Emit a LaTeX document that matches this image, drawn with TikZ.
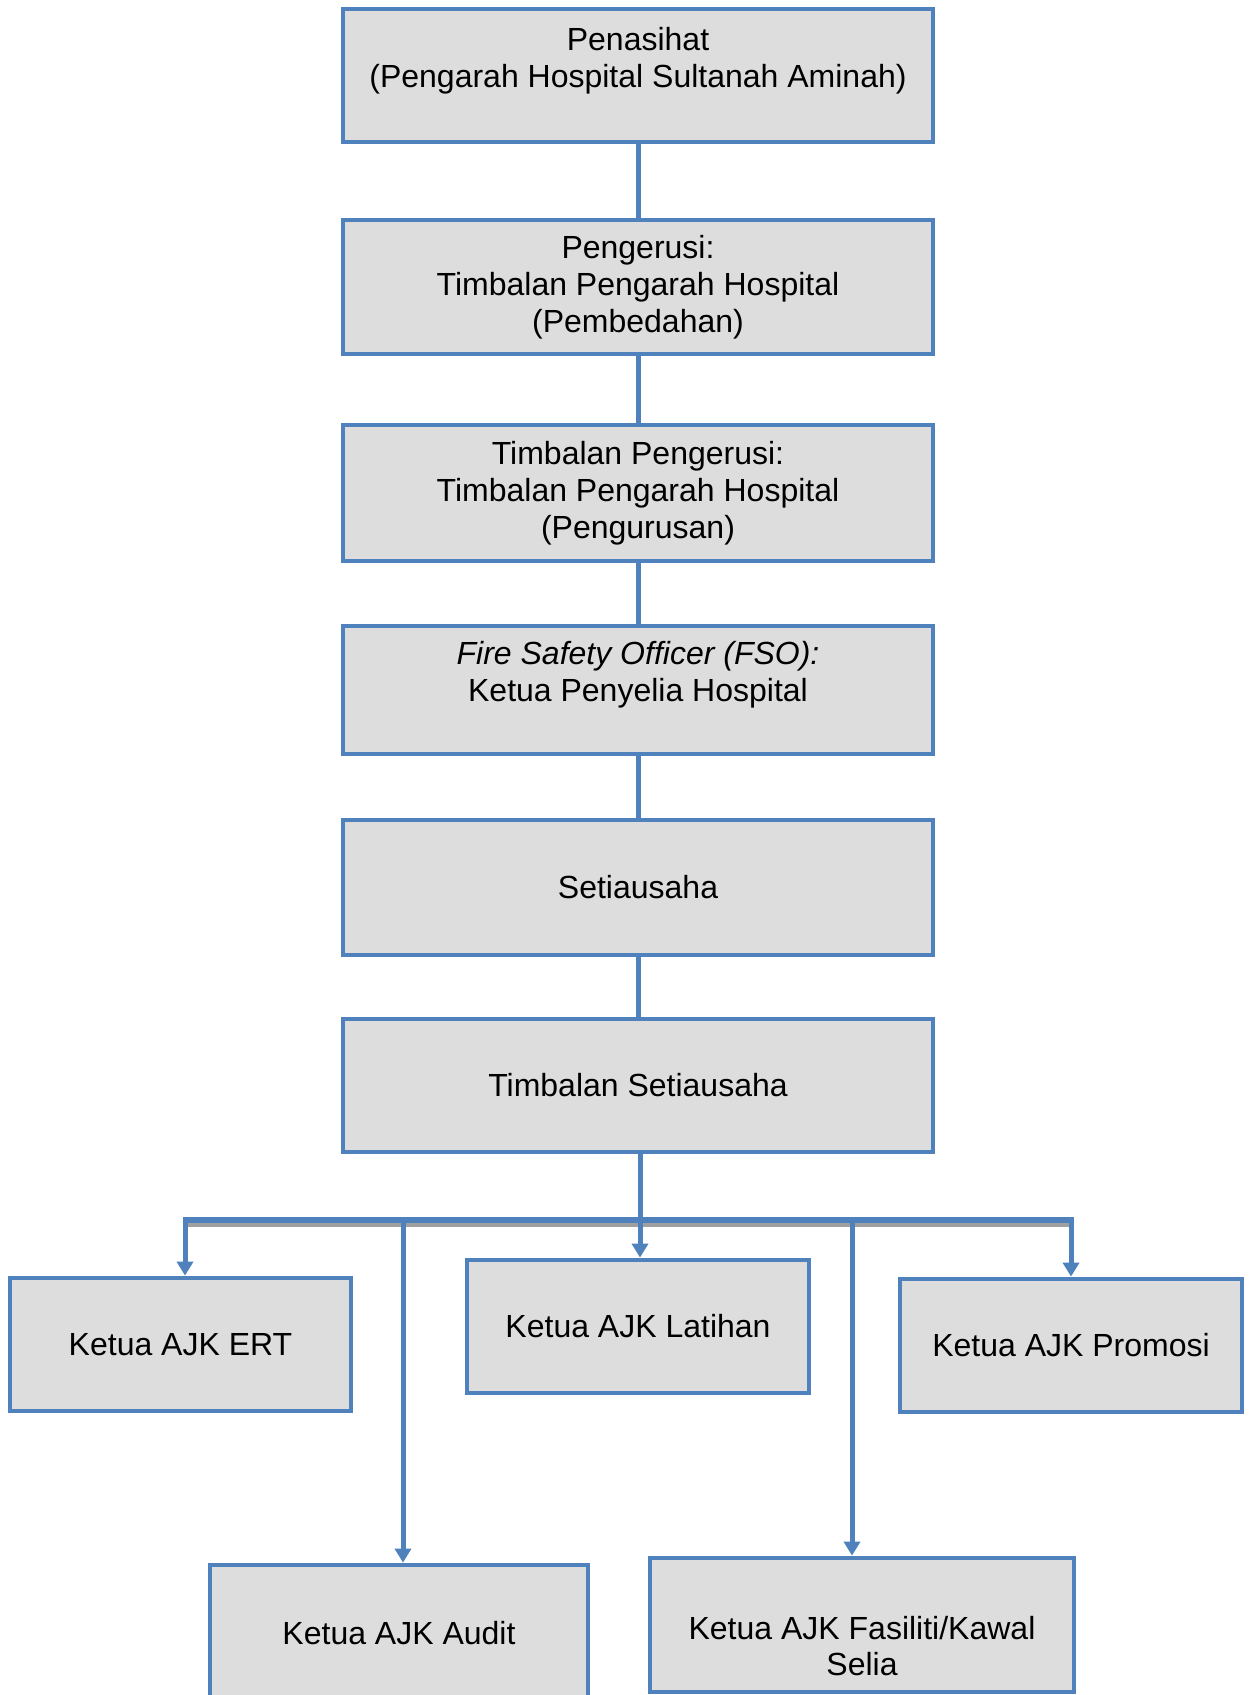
\documentclass[tikz,border=0pt]{standalone}
\usepackage{fontspec}
\setmainfont{Liberation Sans}
\usetikzlibrary{arrows.meta}
\definecolor{boxblue}{HTML}{4F81BD}
\definecolor{boxgrey}{HTML}{DDDDDD}
\definecolor{shadowgrey}{HTML}{A0A0A0}
\begin{document}
\begin{tikzpicture}[x=0.5pt,y=-0.5pt,
  lbl/.style={align=center, font=\fontsize{16}{18.4}\selectfont, text=black, inner sep=0pt},
  box/.style={lbl, draw=boxblue, line width=2.4pt, fill=boxgrey},
  wide/.style={box, minimum width=295pt},
  conn/.style={draw=boxblue, line width=2.5pt},
  arr/.style={conn, -{Triangle[width=8pt,length=7pt]}}]
\useasboundingbox (0,0) rectangle (1248,1695);
\clip (0,0) rectangle (1248,1695);
\fill[white] (0,0) rectangle (1248,1695);

% main chain
\node[wide, minimum height=66.5pt] (pen) at (638,75.5)
  {Penasihat\\(Pengarah Hospital Sultanah Aminah)\\\mbox{}};
\node[wide, minimum height=67pt] (peng) at (638,287)
  {Pengerusi:\\Timbalan Pengarah Hospital\\(Pembedahan)};
\node[wide, minimum height=68pt] (tpeng) at (638,493)
  {Timbalan Pengerusi:\\Timbalan Pengarah Hospital\\(Pengurusan)};
\node[wide, minimum height=64pt] (fso) at (638,690)
  {\itshape Fire Safety Officer (FSO):\\Ketua Penyelia Hospital\\\mbox{}};
\node[wide, minimum height=67.5pt] (set) at (638,887.5) {Setiausaha};
\node[wide, minimum height=66.5pt] (tset) at (638,1085.5) {Timbalan Setiausaha};

% committee heads
\node[box, minimum width=170.5pt, minimum height=66.5pt] (ert) at (180.5,1344.5) {Ketua AJK ERT};
\node[box, minimum width=171pt, minimum height=66.5pt] (lat) at (638,1326.5) {Ketua AJK Latihan};
\node[box, minimum width=171pt, minimum height=66.5pt] (pro) at (1071,1345.5) {Ketua AJK Promosi};
\node[box, minimum width=189pt, minimum height=68pt] (aud) at (399,1633) {Ketua AJK Audit};
\node[box, minimum width=212pt, minimum height=67pt] (fas) at (862,1625) {};
\node[lbl] (fastext) at (862,1646) {Ketua AJK Fasiliti/Kawal\\Selia};

% chain links
\draw[conn] (pen.south) -- (peng.north);
\draw[conn] (peng.south) -- (tpeng.north);
\draw[conn] (tpeng.south) -- (fso.north);
\draw[conn] (fso.south) -- (set.north);
\draw[conn] (set.south) -- (tset.north);

% distribution bus with its shadow
\coordinate (jE) at (185,1220);
\coordinate (jA) at (403,1220);
\coordinate (jL) at (640,1220);
\coordinate (jF) at (852,1220);
\coordinate (jP) at (1071,1220);
\draw[draw=shadowgrey, line width=2pt] ([yshift=-2.5pt]jE) -- ([yshift=-2.5pt]jP);
\draw[draw=boxblue, line width=3pt] (jE) -- (jP);
\draw[arr] (tset.south -| jL) -- (lat.north -| jL);
\draw[arr] ([yshift=1.5pt]jE) -- (jE |- ert.north);
\draw[arr] ([yshift=1.5pt]jP) -- (jP |- pro.north);
\draw[arr] ([yshift=1.5pt]jA) -- (jA |- aud.north);
\draw[arr] ([yshift=1.5pt]jF) -- (jF |- fas.north);
\end{tikzpicture}
\end{document}
